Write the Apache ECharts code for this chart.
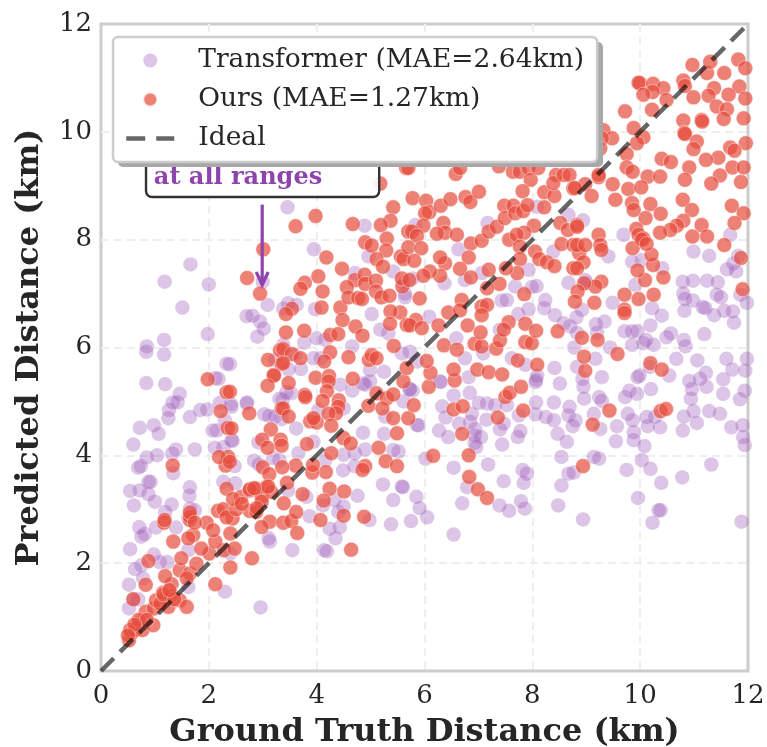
<!DOCTYPE html>
<html>
<head>
<meta charset="utf-8">
<style>html,body{margin:0;padding:0;background:#fff}#c{width:767px;height:747px}</style>
<script src="https://cdn.jsdelivr.net/npm/echarts@6/dist/echarts.min.js"></script>
</head>
<body>
<div id="c"></div>
<script>
const xTitle = 'Ground Truth Distance (km)';
const yTitle = 'Predicted Distance (km)';
const transformerLabel = 'Transformer (MAE=2.64km)';
const oursLabel = 'Ours (MAE=1.27km)';
const idealLabel = 'Ideal';
const annotationText = 'at all ranges';
const idealLine = [[0,0],[12,12]];
const annotationBox = [0.835,8.79,5.16,10.2];
const annotationTextAt = [0.98,9.15];
const arrowLine = [2.99,8.65,2.99,7.14];

const transformerPoints = [
[1.66,7.54],[1.18,7.22],[2.0,7.17],[1.51,6.74],[1.98,6.25],[1.17,6.14],[.85,6.02],[.84,5.92],[1.17,5.87],[2.33,5.7],[.84,5.34],[1.19,5.32],[2.12,5.43],[2.18,5.42],[1.46,5.14],[1.33,4.98],[1.42,4.98],[1.26,4.84],[1.65,4.71],[1.84,4.84],[1.97,4.85],[2.2,4.97],[2.41,4.95],[2.71,4.98],[3.0,7.22],[3.09,6.79],[2.7,6.58],[2.81,6.59],[2.95,6.48],[3.02,6.35],[2.9,6.2],[1.25,4.69],
[3.46,8.6],[4.89,8.26],[3.95,7.82],[5.02,6.62],[3.38,6.72],[3.47,6.82],[3.63,6.79],[3.97,6.71],[4.71,7.38],[4.96,7.69],[5.42,7.41],[5.64,7.0],[5.61,7.2],[5.18,6.33],[5.33,6.26],[4.0,6.17],
[3.77,6.09],[4.16,6.14],[3.38,6.05],[4.66,6.02],[3.94,5.8],[4.08,5.8],[3.23,5.77],[3.6,5.86],[3.48,5.59],[3.71,5.6],[4.99,5.58],[5.25,5.55],[2.39,5.69],[4.44,5.31],[4.66,5.2],[4.9,5.31],[4.99,5.37],[3.53,5.15],[3.37,5.03],[4.03,4.84],[4.5,4.87],[2.7,4.96],[2.42,4.9],[3.03,4.76],[3.12,4.73],[3.23,4.72],[3.35,4.67],[3.62,4.5],[2.44,4.27],[2.92,4.24],[3.94,4.25],[4.5,4.01],[4.71,4.04],[4.86,4.42],[5.25,4.4],[4.9,4.11],[5.42,4.1],[5.52,4.07],[2.84,3.9],[3.19,3.95],[3.66,4.04],[4.16,3.91],[5.23,3.46],[5.58,3.42],[5.42,3.17],[4.76,3.25],[4.5,3.05],[5.61,5.0],[5.27,4.72],
[2.96,1.18],[2.3,1.47],[.52,1.6],[.6,1.33],[.52,1.16],[.69,1.33],[.78,1.72],[.63,1.89],[.75,1.96],[.98,2.16],[1.09,2.02],[1.23,2.02],[1.62,1.56],[.54,2.26],[.75,2.49],[.81,2.54],[.71,2.67],[1.02,2.66],[1.39,2.66],[1.19,2.95],[1.31,3.09],[.61,3.07],[.54,3.34],[.72,3.35],[.88,3.28],[1.0,3.14],[.92,3.51],[.88,3.51],[1.65,3.41],[1.64,3.25],[1.65,3.01],[1.74,2.98],[1.62,2.83],[.69,3.77],[.74,3.8],[.85,3.96],[1.04,4.0],[1.32,4.03],[1.39,4.11],[1.34,3.67],[1.74,4.11],[.6,4.2],[1.07,4.4],[.72,4.51],[.98,4.56],[2.07,4.46],[2.15,4.46],[2.11,4.14],[2.27,4.15],[2.42,4.28],[2.3,4.65],[2.93,3.83],[2.48,3.8],[2.27,3.51],[2.49,3.48],[3.31,3.91],[4.49,3.72],[4.7,3.8],[4.98,2.8],[5.38,2.72],[3.87,2.87],[4.12,3.07],[4.33,3.17],[4.4,2.95],[4.43,2.67],[4.24,2.64],[4.35,2.46],[4.14,2.24],[4.19,2.22],[3.55,2.24],[3.13,2.4],[3.11,2.46],[3.81,3.23],[3.47,3.35],[1.62,2.24],[2.4,2.18],[5.78,5.2],[4.86,5.33],[5.72,5.23],[3.44,5.17],[3.31,5.05],
[11.88,2.77],[10.23,2.75],[10.38,2.98],[10.34,2.98],[8.94,2.81],[8.48,3.07],[9.96,3.21],[10.78,3.59],[10.39,3.49],[11.32,3.83],[10.19,3.75],[9.75,3.73],[10.03,3.91],[9.24,3.94],[9.14,3.97],[8.67,3.66],[8.77,3.68],[8.54,3.44],[8.54,3.97],[7.86,3.01],[7.79,3.15],[7.57,2.97],[7.39,3.07],[6.7,3.11],[6.54,2.53],[5.75,2.78],[6.05,2.85],[5.91,3.02],[5.85,3.23],[5.6,3.41],[6.79,3.41],[7.47,3.52],[7.84,3.49],[7.9,3.66],[7.82,3.73],[6.54,3.77],[7.18,3.83],[6.02,3.94],[7.44,4.2],[7.73,4.34],[7.78,4.45],[6.96,4.15],[6.93,4.23],[7.05,4.34],[6.93,4.37],[6.94,4.49],[6.85,4.62],[6.64,4.59],[6.27,4.46],[6.44,4.34],[5.86,4.56],[6.39,4.7],[6.33,4.91],[6.54,5.11],[6.84,5.16],[6.82,5.45],[6.3,5.36],[6.88,4.77],[7.01,4.97],[7.16,4.96],[7.31,4.93],[7.53,4.93],[7.15,4.66],[7.4,4.48],[7.47,4.59],[7.75,4.74],[8.06,4.76],[8.07,4.98],[8.25,4.71],[8.4,4.98],[8.4,4.65],[8.47,4.4],[8.64,4.25],[8.69,4.9],[8.67,4.74],[8.8,4.65],[8.75,4.54],[8.41,5.62],[8.51,5.33],[8.06,5.36],[8.09,5.48],[8.96,5.05],[8.95,5.27],[8.93,5.42],[8.83,5.64],[9.17,5.79],[9.29,5.45],[9.24,5.08],[9.29,5.01],[9.14,4.77],[9.26,4.49],[9.57,4.54],[9.55,4.26],[9.88,4.43],[9.88,4.28],[10.08,4.17],[9.86,4.65],[9.77,4.77],[10.12,4.71],[10.14,4.54],[10.37,4.52],[10.28,4.72],[10.18,5.64],[10.2,5.23],[9.94,5.14],[9.72,5.08],[9.8,5.2],[9.95,5.45],[9.99,5.48],[10.54,5.48],[10.67,5.79],[11.06,5.76],[11.6,5.79],[11.71,5.59],[11.98,5.79],[11.95,5.57],[11.22,5.53],[11.11,5.42],[10.91,5.38],[10.96,5.23],[11.23,5.27],[11.54,5.41],[11.54,5.14],[11.85,5.04],[11.94,5.2],[10.94,5.05],[10.99,4.82],[10.81,4.72],[11.05,4.6],[10.79,4.46],[11.28,4.82],[11.48,4.77],[11.69,4.52],[11.9,4.56],[11.91,4.34],[11.94,4.19],
[5.58,5.89],[5.73,5.92],[5.86,5.74],[5.73,5.23],[6.29,5.37],[5.89,4.56],[6.75,5.8],[6.59,6.17],[7.09,5.89],[7.62,5.8],[7.87,5.68],[8.07,5.4],[8.78,6.0],
[7.17,8.31],[6.63,7.82],[5.78,7.28],[6.37,7.19],[5.64,6.93],[6.09,6.57],[7.53,6.88],[7.43,6.87],[8.08,7.14],[7.99,7.12],[8.24,6.88],[8.22,6.73],[8.42,6.6],[7.93,6.71],[7.74,6.62],[7.68,7.13],[8.39,7.78],[8.67,8.46],[8.67,7.2],[7.06,7.38],[8.82,6.56],[8.7,6.39],[8.58,6.45],[7.93,7.44],[7.4,6.33],[6.75,7.25],[5.83,8.27],[8.09,8.61],[8.94,8.36],
[9.69,8.09],[9.41,7.69],[9.85,7.59],[10.03,7.62],[10.99,7.78],[11.28,7.7],[11.82,7.7],[11.67,8.09],[11.61,7.45],[11.78,7.41],[11.73,7.56],[10.41,7.47],[9.91,7.16],[10.79,7.22],[10.98,7.24],[11.24,7.24],[11.44,7.21],[10.8,7.0],[10.83,6.9],[10.98,6.87],[11.42,6.98],[11.5,6.93],[11.86,6.98],[11.98,6.83],[10.82,6.68],[11.16,6.75],[11.21,6.73],[11.37,6.6],[11.56,6.68],[11.72,6.67],[11.74,6.46],[9.49,6.83],[10.22,6.73],[10.4,6.59],[10.19,6.41],[11.19,6.25],[10.57,6.26],[10.49,6.19],[10.81,6.14],[10.84,6.02],[9.71,6.3],[9.85,6.3],[9.95,6.3],[10.11,6.14],[10.25,6.05],[10.06,6.08],[9.85,6.05],[9.44,6.0],[9.34,6.48],[9.18,6.43],[9.2,6.27],[8.92,6.7],[9.0,7.2],[8.83,6.27],[8.98,7.25]
];

const oursPoints = [
[.52,.57],[.57,.7],[.54,.76],[.63,.76],[.72,.91],[.77,.76],[.97,.85],[.83,1.1],[.98,1.16],[.6,1.33],[.83,1.6],[1.02,1.31],[1.19,1.35],[1.25,1.19],[1.46,1.31],[1.59,1.19],[1.31,1.61],[1.19,1.76],[1.46,1.87],[1.65,1.81],[1.59,1.72],[1.49,2.09],[1.77,1.99],[.88,2.04],[2.12,1.61],[2.4,1.92],[2.8,2.09],[2.01,2.18],[1.86,2.27],[2.28,2.24],[2.48,2.27],[2.12,2.4],[1.71,2.52],[1.62,2.46],[1.34,2.4],[1.17,2.75],[1.18,2.8],[1.65,2.8],[1.65,2.86],[1.65,2.94],[1.96,2.75],[2.08,2.61],[2.4,2.55],[2.17,2.97],[2.44,2.83],[2.76,2.97],[2.88,2.95],[3.13,2.77],[2.98,2.67],[3.38,2.75],[3.53,2.78],[3.62,2.95],[3.64,2.56],[4.07,2.8],[4.5,2.88],[4.88,2.86],[4.64,2.25],[2.33,3.38],[2.31,3.81],[2.36,3.97],[2.19,3.97],[2.35,4.51],[2.22,4.82],[2.33,5.17],[1.98,5.41],[1.33,3.81],[1.1,1.25],[1.15,1.45],[1.3,1.4],[.7,.95],[.85,.95],
[1.74,2.75],[2.27,3.0],[2.33,2.85],[2.51,3.0],[2.6,3.23],[2.76,3.35],[2.88,3.38],[2.98,3.23],[3.07,3.41],[3.16,3.32],[1.16,1.42],[1.36,1.33],[1.27,1.5],[.62,.86],[.5,.66],
[3.01,7.82],[2.71,7.29],[2.95,7.0],[3.2,5.49],[3.35,5.7],[3.35,4.87],[3.32,5.95],
[5.18,9.04],[5.66,9.33],[5.42,8.6],[5.37,8.35],[5.19,8.27],[3.98,8.44],[3.61,8.25],[4.67,8.29],[5.7,8.15],[5.3,8.02],[4.9,7.95],[5.02,7.89],[5.29,7.8],[5.11,7.64],[5.23,7.5],[5.56,7.69],[5.61,7.64],[4.18,7.67],[4.47,7.46],[4.03,7.32],[3.78,7.2],[3.7,7.09],[4.11,7.04],[4.09,6.74],[3.54,6.72],[3.43,6.62],[4.44,6.74],[4.71,7.25],[4.89,7.35],[4.9,7.18],[5.1,7.24],[4.56,7.12],[4.59,6.93],[4.77,6.92],[4.84,6.9],[5.1,7.04],[5.2,6.93],[5.35,6.96],[5.59,7.13],[5.58,7.28],[5.72,7.25],[5.55,6.65],[5.37,6.67],[5.36,6.44],[5.67,6.42],[4.48,6.51],[4.72,6.39],[3.77,6.31],[3.43,6.28],[4.25,6.23],[4.4,6.25],[4.85,6.22],
[3.38,5.97],[3.54,5.88],[3.1,5.77],[3.38,5.71],[3.7,5.8],[4.25,5.91],[4.14,5.74],[4.59,5.82],[4.97,5.77],[5.02,5.86],[5.11,5.8],[5.43,6.03],[3.21,5.48],[3.09,5.29],[3.48,5.34],[3.98,5.44],[4.23,5.47],[4.22,5.37],[4.19,5.19],[4.67,5.42],[3.78,5.12],[3.79,5.08],[4.11,5.01],[4.41,5.02],[4.4,4.9],[4.36,4.78],[4.22,4.77],[3.38,4.87],[3.48,4.72],[2.75,4.78],[3.88,4.63],[4.0,4.61],[3.94,4.69],[4.27,4.55],[3.15,4.48],[2.99,4.29],[3.33,4.29],[3.09,4.14],[3.35,4.18],[3.82,4.21],[4.5,4.32],[4.63,4.22],[4.27,4.04],[5.15,4.14],[5.28,3.89],[5.49,3.8],[4.9,3.8],[4.85,3.73],[4.17,3.69],[3.92,3.68],[3.93,3.82],[3.61,3.81],[3.36,3.78],[3.0,3.78],[3.12,3.65],[3.45,3.49],[3.1,3.42],[2.76,3.37],[2.84,3.39],[2.45,3.19],[2.61,3.1],[2.98,3.14],[3.39,3.11],[2.89,3.02],[3.74,3.28],[4.24,3.38],[4.51,3.33],[4.13,3.16],[5.11,5.15],[4.96,4.92],[5.3,5.06],[5.42,5.13],[5.22,4.87],[5.42,4.69],[5.7,4.69],[5.49,4.41],[5.61,5.37],[5.67,5.62],[2.42,4.5],[2.39,5.18],[2.39,3.88],[5.8,4.93],
[8.94,3.8],[6.82,4.0],[6.16,3.99],[6.83,3.6],[6.99,3.37],[7.16,3.21],[6.7,4.4],[7.36,4.7],[6.54,4.85],[6.71,4.91],[7.83,4.83],[7.5,5.08],[7.58,5.16],[7.79,5.27],[6.56,5.39],[6.54,5.59],[6.98,5.59],[7.19,5.54],[7.44,5.5],[8.09,5.68],[7.73,5.76],[8.98,5.57],[8.96,5.83],[9.58,5.88],[10.19,5.71],[10.4,5.59],[9.43,4.83],[9.12,4.57],[10.38,4.82],[10.48,4.86],[6.08,5.27],[6.11,5.53],[6.04,5.75],[6.36,6.04],[6.6,5.96],[6.93,6.07],[7.06,6.02],[7.33,5.98],[7.4,6.13],[7.87,6.1],[7.99,6.08],
[5.78,8.77],[5.7,9.33],[6.58,9.22],[6.66,9.33],[7.38,9.36],[7.64,9.26],[7.77,9.26],[7.93,9.33],[7.97,9.11],[8.11,9.33],[7.82,8.9],[8.22,8.88],[8.41,8.81],[8.44,9.2],[8.39,9.05],[8.58,9.2],[8.69,9.2],[8.76,8.95],[6.03,8.72],[6.09,8.51],[6.01,8.49],[6.3,8.63],[6.48,8.75],[6.76,8.79],[6.85,8.7],[7.01,8.89],[6.35,8.31],[6.38,8.13],[6.23,8.11],[6.6,8.09],[5.98,8.26],[5.77,8.15],[5.86,8.07],[5.7,7.86],[5.94,7.84],[5.81,7.61],[6.86,7.93],[7.06,7.98],[7.19,8.15],[7.34,8.24],[7.48,8.63],[7.65,8.63],[7.49,8.4],[7.68,8.49],[7.83,8.53],[7.91,8.64],[8.22,8.6],[8.03,8.26],[7.85,8.13],[7.57,8.0],[7.71,8.09],[7.77,7.87],[8.05,7.78],[8.13,7.64],[8.27,7.58],[8.41,7.51],[7.77,7.64],[7.72,7.38],[7.51,7.47],[7.19,7.44],[7.39,7.18],[6.82,7.67],[6.38,7.56],[6.29,7.67],[6.66,7.46],[6.86,7.3],[6.29,7.33],[6.1,7.41],[5.98,7.33],[5.91,6.91],[7.16,7.1],[7.85,6.99],[6.69,6.88],[6.44,6.65],[6.66,6.69],[7.06,6.76],[7.16,6.79],[7.06,6.6],[5.84,6.51],[5.73,6.41],[5.95,6.36],[6.26,6.41],[6.8,6.41],[7.04,6.28],[7.56,6.47],[7.47,6.33],[7.87,6.44],[8.07,6.31],[8.47,6.3],[8.52,8.31],[8.66,8.18],[8.83,8.27],[8.54,7.92],[8.76,7.9],[8.76,7.47],
[10.97,11.24],[11.24,11.09],[11.3,11.3],[11.56,11.09],[11.82,11.34],[11.95,11.18],[11.84,10.84],[10.0,10.9],[9.97,10.91],[10.24,10.89],[10.43,10.81],[10.23,10.74],[10.06,10.69],[10.49,10.59],[10.8,10.95],[10.83,10.85],[10.99,10.64],[11.37,10.81],[11.27,10.67],[11.64,10.69],[11.42,10.47],[11.61,10.42],[11.55,10.24],[11.95,10.62],[11.92,10.25],[10.22,10.41],[9.72,10.38],[10.8,10.21],[11.14,10.22],[11.15,10.19],[9.88,10.07],[10.06,9.9],[9.94,9.79],[10.82,9.98],[10.83,9.96],[11.05,9.82],[10.99,9.68],[11.96,9.79],[11.67,9.71],[11.75,9.65],[11.45,9.52],[11.22,9.48],[9.75,9.59],[10.4,9.5],[10.57,9.44],[10.91,9.34],[11.71,9.34],[11.92,9.34],[9.75,9.34],[9.86,9.26],[10.14,9.17],[10.37,9.17],[11.48,9.19],[10.83,9.11],[11.32,9.04],[11.87,9.07],[9.49,9.03],[9.23,9.16],[9.78,8.94],[10.02,8.97],[8.98,9.03],[9.1,8.81],[8.79,8.96],[9.54,8.74],[9.85,8.68],[10.19,8.66],[10.79,8.74],[10.96,8.55],[11.7,8.63],[11.92,8.49],[11.75,8.31],[9.88,8.55],[10.1,8.4],[10.38,8.48],[10.8,8.35],[11.14,8.27],[10.68,8.26],[10.56,8.18],[10.37,8.13],[9.93,8.2],[9.97,8.09],[10.06,8.02],[9.23,8.09],[10.97,8.06],[11.24,8.06],[8.83,8.24],[9.32,10.03],[9.48,9.88],[9.29,9.88],[9.26,9.69],[9.23,9.2],
[8.87,7.75],[8.83,7.9],[8.95,7.58],[8.83,7.47],[9.26,7.9],[9.28,7.81],[8.98,7.9],[9.28,7.22],[9.17,7.13],[8.96,7.19],[8.84,7.04],[8.79,6.85],[9.15,6.83],[9.71,6.98],[9.71,6.7],[9.71,6.64],[9.97,6.9],[10.25,6.98],[10.09,7.25],[9.95,7.43],[10.24,7.53],[10.21,7.72],[10.43,7.3],[9.86,7.84],[10.03,8.0],[10.12,7.92],[11.56,7.9],[11.87,7.66],[11.9,7.08],[8.92,6.18],[9.21,6.14]
];

const chart = echarts.init(document.getElementById('c'), null, {renderer:'canvas'});
const serif = '"DejaVu Serif", serif';
const ink = '#262626';
const purple = '#8e44ad';

function renderAnnotation(params, api) {
  const a = api.coord([annotationBox[0], annotationBox[3]]);
  const b = api.coord([annotationBox[2], annotationBox[1]]);
  const t = api.coord(annotationTextAt);
  const s = api.coord([arrowLine[0], arrowLine[1]]);
  const e = api.coord([arrowLine[2], arrowLine[3]]);
  return {type:'group', silent:true, children:[
    {type:'rect', shape:{x:a[0],y:a[1],width:b[0]-a[0],height:b[1]-a[1],r:6},
     style:{fill:'rgba(255,255,255,0.9)',stroke:'#333',lineWidth:2.4}},
    {type:'text', x:t[0], y:t[1],
     style:{text:annotationText,fill:purple,font:'bold 24px '+serif,textVerticalAlign:'middle',textBaseline:'middle'}},
    {type:'line', shape:{x1:s[0],y1:s[1],x2:e[0],y2:e[1]-2}, style:{stroke:purple,lineWidth:3.2}},
    {type:'polyline', shape:{points:[[e[0]-6,e[1]-14],[e[0],e[1]-1],[e[0]+6,e[1]-14]]}, style:{fill:'none',stroke:purple,lineWidth:3.2}}
  ]};
}

chart.setOption({
  animation:false,
  backgroundColor:'#fff',
  textStyle:{fontFamily:serif,color:ink},
  grid:{left:101,right:19,top:24,bottom:76,outerBoundsMode:'none',show:true,borderColor:'#cccccc',borderWidth:3,backgroundColor:'#fff'},
  xAxis:{type:'value',min:0,max:12,interval:2,
    name:xTitle,nameLocation:'middle',nameGap:46,
    nameTextStyle:{fontFamily:serif,fontWeight:'bold',fontSize:32,color:ink},
    axisLine:{show:false},axisTick:{show:false},
    axisLabel:{fontFamily:serif,fontSize:26,color:ink,margin:12,showMinLabel:true,showMaxLabel:true,hideOverlap:false},
    splitLine:{show:true,showMinLine:false,showMaxLine:false,lineStyle:{color:'#eeeeee',type:[8,5],width:2}}},
  yAxis:{type:'value',min:0,max:12,interval:2,
    name:yTitle,nameLocation:'middle',nameGap:55,
    nameTextStyle:{fontFamily:serif,fontWeight:'bold',fontSize:32,color:ink},
    axisLine:{show:false},axisTick:{show:false},
    axisLabel:{fontFamily:serif,fontSize:26,color:ink,margin:9,padding:[4,0,0,0],showMinLabel:true,showMaxLabel:true,hideOverlap:false},
    splitLine:{show:true,showMinLine:false,showMaxLine:false,lineStyle:{color:'#eeeeee',type:[8,5],width:2}}},
  legend:{
    left:113,top:37,orient:'vertical',z:20,
    padding:[10,13,10,11],itemGap:12,itemWidth:48,itemHeight:14,
    backgroundColor:'#fff',borderColor:'#cccccc',borderWidth:2.5,borderRadius:5,
    textStyle:{fontFamily:serif,fontSize:26.5,color:ink,padding:[0,0,0,19]},
    data:[{name:transformerLabel,icon:'circle'},{name:oursLabel,icon:'circle'},
      {name:idealLabel,itemStyle:{opacity:0},lineStyle:{width:4.5,type:[19,11],color:'#000',opacity:.6,cap:'butt'}}]
  },
  graphic:{elements:[{type:'rect',z:19,zlevel:0,silent:true,left:118,top:42,shape:{width:485,height:125,r:5},style:{fill:'#a8a8a8'}}]},
  series:[
    {name:transformerLabel,type:'scatter',data:transformerPoints,symbolSize:14.5,z:2,silent:true,clip:true,
     itemStyle:{color:'#9b59b6',opacity:.35}},
    {name:oursLabel,type:'scatter',data:oursPoints,symbolSize:15,z:3,silent:true,clip:true,
     itemStyle:{color:'#e74c3c',opacity:.7,borderColor:'#fff',borderWidth:.6}},
    {name:idealLabel,type:'line',data:idealLine,showSymbol:false,symbol:'none',z:4,silent:true,clip:true,
     lineStyle:{color:'#000',opacity:.6,width:4.5,type:[18,9],cap:'butt'},itemStyle:{color:'#555'}},
    {name:'annotation',type:'custom',data:[[0,0]],renderItem:renderAnnotation,z:5,silent:true,clip:false}
  ]
});
</script>
</body>
</html>
